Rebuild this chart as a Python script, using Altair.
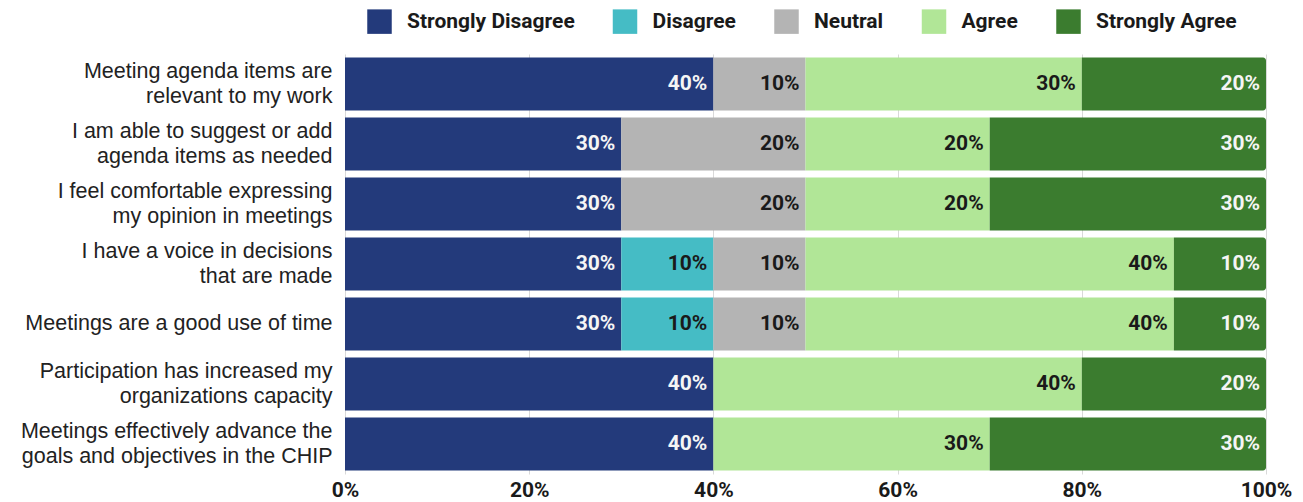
import altair as alt
import pandas as pd

questions = [
    "Meeting agenda items are|relevant to my work",
    "I am able to suggest or add|agenda items as needed",
    "I feel comfortable expressing\u00a0|my opinion in meetings",
    "I have a voice in decisions|that are made",
    "Meetings are a good use of time",
    "Participation has increased my|organizations capacity",
    "Meetings effectively advance the\u00a0|goals and objectives in the CHIP",
]
categories = ["Strongly Disagree", "Disagree", "Neutral", "Agree", "Strongly Agree"]
colors = ["#233a7b", "#45bcc5", "#b4b4b4", "#b1e697", "#3b7c2f"]

strongly_disagree = [40, 30, 30, 30, 30, 40, 40]
disagree = [0, 0, 0, 10, 10, 0, 0]
neutral = [10, 20, 20, 10, 10, 0, 0]
agree = [30, 20, 20, 40, 40, 40, 30]
strongly_agree = [20, 30, 30, 10, 10, 20, 30]
x_ticks = [0, 20, 40, 60, 80, 100]

series = [strongly_disagree, disagree, neutral, agree, strongly_agree]
rows = []
for qi, q in enumerate(questions):
    for ci, c in enumerate(categories):
        rows.append({"question": q, "category": c, "order": ci, "value": series[ci][qi]})
df = pd.DataFrame(rows)

base = alt.Chart(df).transform_stack(
    stack="value", groupby=["question"], as_=["x0", "x1"], sort=[alt.SortField("order")]
)

y_enc = alt.Y(
    "question:N",
    sort=questions,
    title=None,
    scale=alt.Scale(paddingInner=0.12, paddingOuter=0.06),
    axis=alt.Axis(
        labelExpr="split(datum.label, '|')",
        labelFont="Liberation Sans",
        labelFontSize=21.5,
        labelColor="#222222",
        labelLineHeight=25,
        labelPadding=13,
        labelLimit=400,
        labelOffset={"condition": {"test": "indexof(datum.value, '|') >= 0", "value": -12.5}, "value": 0},
        domain=False,
        ticks=False,
        grid=False,
    ),
)

x_enc = alt.X(
    "x0:Q",
    title=None,
    scale=alt.Scale(domain=[0, 100], nice=False, zero=True),
    axis=alt.Axis(
        values=x_ticks,
        labelExpr="datum.value + '%'",
        labelFont="Roboto",
        labelFontWeight="bold",
        labelFontSize=21,
        labelColor="#1a1a1a",
        labelPadding=5,
        labelFlush=False,
        labelOverlap=False,
        domain=False,
        ticks=False,
        grid=True,
        gridColor="#d9d9d9",
        gridWidth=1,
    ),
)

color_enc = alt.Color(
    "category:N",
    scale=alt.Scale(domain=categories, range=colors),
    legend=alt.Legend(
        title=None,
        orient="none",
        direction="horizontal",
        legendX=22,
        legendY=-45,
        padding=0,
        symbolType="square",
        symbolSize=600,
        symbolStrokeWidth=0,
        symbolOpacity=1,
        labelFont="Roboto",
        labelFontWeight="bold",
        labelFontSize=21,
        labelColor="#1a1a1a",
        labelOffset=15,
        columnPadding=37.5,
        labelLimit=300,
    ),
)

bars = base.transform_filter(alt.datum.category != "Strongly Agree").mark_bar().encode(
    y=y_enc, x=x_enc, x2="x1:Q", color=color_enc
)

bars_end = base.transform_filter(alt.datum.category == "Strongly Agree").mark_bar(
    cornerRadiusTopRight=3, cornerRadiusBottomRight=3
).encode(y=y_enc, x=x_enc, x2="x1:Q", color=color_enc)

labels = base.transform_filter(alt.datum.value > 0).mark_text(
    align="right", baseline="middle", dx=-6, font="Roboto", fontWeight="bold", fontSize=21
).encode(
    y=alt.Y("question:N", sort=questions),
    x=alt.X("x1:Q"),
    text=alt.Text("label:N"),
    color=alt.condition(
        alt.FieldOneOfPredicate(field="category", oneOf=["Strongly Disagree", "Strongly Agree"]),
        alt.value("#f5f5f5"),
        alt.value("#1a1a1a"),
    ),
).transform_calculate(label="datum.value + '%'")

chart = alt.layer(bars, bars_end, labels).properties(
    width=921,
    height=420,
    autosize=alt.AutoSizeParams(type="none"),
    padding={"left": 345, "top": 54, "right": 37, "bottom": 28},
).configure_view(stroke=None)

chart.save("out.html", embed_options={"renderer": "svg", "actions": False})
